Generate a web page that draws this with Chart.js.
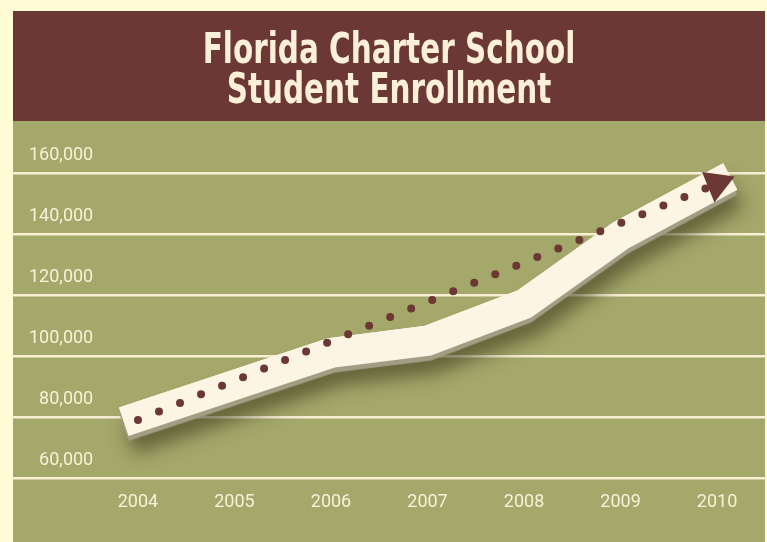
<!DOCTYPE html>
<html>
<head>
<meta charset="utf-8">
<title>Florida Charter School Student Enrollment</title>
<script src="https://cdn.jsdelivr.net/npm/chart.js@4.4.1/dist/chart.umd.min.js"></script>
<style>
  html, body { margin: 0; padding: 0; background: #fffbd5; }
  canvas { display: block; }
</style>
</head>
<body>
<canvas id="enrollment" width="767" height="542"></canvas>
<script>
// values
const years = [2004, 2005, 2006, 2007, 2008, 2009, 2010];
const enrollment = [80000, 90500, 101000, 105000, 117000, 139500, 156500];
const trendYears = [2004, 2010];
const trendValues = [79000, 156500];
const yTicks = [60000, 80000, 100000, 120000, 140000, 160000];
const titleLines = ['Florida Charter School', 'Student Enrollment'];

const CREAM = '#fdf5e4';
const MAROON = '#6b3835';
const GREEN = '#a5a86b';
const TICK_FONT = "Roboto, 'Liberation Sans', sans-serif";
const TITLE_FONT = "bold 42px 'DejaVu Sans Condensed', 'DejaVu Sans', sans-serif";

// panel backgrounds: outer cream, maroon header, green plot + the title
const panel = {
  id: 'panel',
  beforeDraw(chart) {
    const ctx = chart.ctx;
    ctx.save();
    ctx.fillStyle = '#fffbd5';
    ctx.fillRect(0, 0, chart.width, chart.height);
    ctx.fillStyle = MAROON;
    ctx.fillRect(13, 11, 752, 110);
    ctx.fillStyle = GREEN;
    ctx.fillRect(13, 121, 752, chart.height - 121);

    // condensed heavy title: squeeze the font horizontally
    ctx.fillStyle = '#fdf0d9';
    ctx.font = TITLE_FONT;
    ctx.textAlign = 'center';
    ctx.textBaseline = 'alphabetic';
    ctx.translate(389, 0);
    ctx.scale(0.78, 1);
    titleLines.forEach((line, i) => ctx.fillText(line, 0, 63 + i * 39.5));
    ctx.restore();
  }
};

// per-dataset canvas shadows (ribbon underside + drop shadow)
const shadows = {
  id: 'shadows',
  beforeDatasetDraw(chart, args) {
    const s = chart.data.datasets[args.index].shadow;
    if (!s) return;
    const ctx = chart.ctx;
    ctx.save();
    ctx.shadowColor = s.color;
    ctx.shadowBlur = s.blur;
    ctx.shadowOffsetX = s.x;
    ctx.shadowOffsetY = s.y;
  },
  afterDatasetDraw(chart, args) {
    if (chart.data.datasets[args.index].shadow) chart.ctx.restore();
  }
};

const ribbonPoints = years.map((y, i) => ({ x: y, y: enrollment[i] }));

new Chart(document.getElementById('enrollment'), {
  type: 'line',
  data: {
    datasets: [
      {
        // dotted trend with arrow head
        data: trendYears.map((y, i) => ({ x: y, y: trendValues[i] })),
        borderColor: MAROON,
        borderWidth: 8,
        borderDash: [0, 22.7],
        borderCapStyle: 'round',
        pointStyle: 'triangle',
        pointRadius: [0, 19],
        pointRotation: 68,
        pointBackgroundColor: MAROON,
        pointBorderWidth: 0,
        clip: false,
      },
      {
        data: ribbonPoints,
        borderColor: CREAM,
        borderWidth: 30,
        borderCapStyle: 'square',
        borderJoinStyle: 'miter',
        pointRadius: 0,
        clip: false,
        shadow: { color: '#a49d86', blur: 1, x: 0, y: 5 },
      },
      {
        data: ribbonPoints,
        borderColor: CREAM,
        borderWidth: 30,
        borderCapStyle: 'square',
        borderJoinStyle: 'miter',
        pointRadius: 0,
        clip: false,
        shadow: { color: 'rgba(55, 55, 25, 0.6)', blur: 18, x: 6, y: 18 },
      },
    ],
  },
  options: {
    responsive: false,
    animation: false,
    devicePixelRatio: 1,
    layout: { autoPadding: false, padding: { top: 173, left: 13, right: 2, bottom: 0 } },
    plugins: {
      legend: { display: false },
      tooltip: { enabled: false },
      title: { display: false },
    },
    scales: {
      x: {
        type: 'linear',
        min: 2002.705,
        max: 2010.497,
        afterBuildTicks: (scale) => { scale.ticks = years.map((v) => ({ value: v })); },
        afterFit: (scale) => {
          scale.height = 64;
          scale.paddingLeft = 0;
          scale.paddingRight = 0;
        },
        grid: { display: false, drawTicks: false },
        border: { display: false },
        ticks: {
          color: '#f8f1d8',
          font: { family: TICK_FONT, size: 18 },
          padding: 14,
          maxRotation: 0,
          callback: (v) => String(v),
        },
      },
      y: {
        min: 60000,
        max: 160000,
        afterBuildTicks: (scale) => { scale.ticks = yTicks.map((v) => ({ value: v })); },
        afterFit: (scale) => {
          scale.width = 0;
          scale.paddingTop = 0;
          scale.paddingBottom = 0;
        },
        grid: { color: '#f8efd4', lineWidth: 2.5, drawTicks: false },
        border: { display: false },
        ticks: {
          mirror: true,
          crossAlign: 'far',
          padding: 16,
          labelOffset: -18,
          color: '#f8f1d8',
          font: { family: TICK_FONT, size: 18 },
          callback: (v) => v.toLocaleString('en-US'),
        },
      },
    },
  },
  plugins: [panel, shadows],
});
</script>
</body>
</html>
